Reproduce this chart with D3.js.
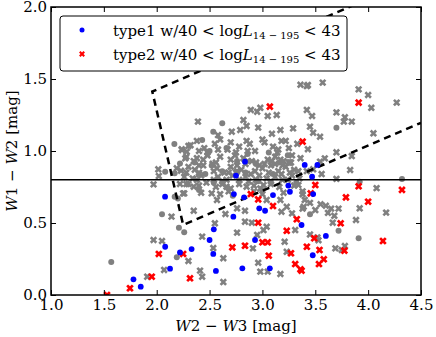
<!DOCTYPE html>
<html><head><meta charset="utf-8">
<script src="https://cdn.jsdelivr.net/npm/d3@7"></script>
<style>body{margin:0;background:#fff}svg{display:block}text{font-family:"DejaVu Serif",serif}</style>
</head><body><svg id="c" width="436" height="337"></svg>
<script>
// ---- data ----
const xTicks = [1.0,1.5,2.0,2.5,3.0,3.5,4.0,4.5];
const yTicks = [0.0,0.5,1.0,1.5,2.0];
const hLineY = 0.8;
const wedgeX = [4.5, 1.958, 2.250, 4.5];
const wedgeY = [2.214, 1.413, 0.487, 1.196];
const legendLabels = ["type1", "type2"];
const grayCrossX = [2.236,2.284,2.30,2.27,2.19,2.015,2.02,1.97,2.23,2.22,2.28,2.26,2.14,1.97,2.05,2.07,1.91,2.63,
 3.05,2.98,2.89,2.95,3.135,2.39,2.82,2.85,2.96,2.71,2.79,2.58,3.09,3.17,3.29,3.43,2.24,3.36,
 3.57,3.42,3.91,4.0,4.03,4.27,3.42,3.47,3.70,3.78,3.77,3.845,3.45,3.48,3.545,4.05,3.43,3.70,3.845,3.59,3.545,3.48,3.56,3.83,3.70,4.08,
 3.40,3.45,3.55,3.60,3.65,3.38,3.50,3.62,3.68,3.72,3.92,4.17,3.885,3.665,3.69,3.75,3.78,3.52,3.45,3.53,
 2.30,2.41,2.43,2.63,2.96,2.98,3.05,3.17,2.76,2.535,2.91,3.01,2.95,3.21,3.23,3.31,2.43,2.35,2.55,2.835,2.90,3.04,2.76,2.835,2.65,2.57,3.18,3.23,3.28,3.39,3.17,3.04,2.25,2.35,2.52,2.66,2.85,3.01,3.34,
 2.32,2.45,2.55,2.70,2.78,2.88,3.02,3.10,3.18,3.25,3.33,
 2.28,2.38,2.48,2.60,2.74,2.82,2.90,3.05,3.12,3.20,3.28,3.36,
 2.30,2.36,2.44,2.57,2.64,2.70,2.80,2.93,3.00,3.08,3.15,3.22,3.30,
 2.26,2.34,2.42,2.58,2.66,2.72,2.84,2.97,3.04,3.12,3.19,3.28,3.35,
 2.30,2.40,2.47,2.56,2.62,2.70,2.78,2.92,2.98,3.08,3.16,3.30,
 2.42,2.60,2.68,2.92,3.00,3.20,3.38,2.48,2.86,3.14,2.53,2.67,3.26,2.40,2.75,3.02,3.42,3.38,
 2.38,2.60,2.85,3.00,3.22, 2.40,2.58,2.75,2.93,3.15,
 2.35,2.44,2.56,2.70,2.86,2.94,3.09,3.17,3.25,
 2.40,2.53,2.76,2.84,2.97,3.12,3.19,3.27,
 2.28,2.40,2.54,2.68,2.76,2.89,3.06,3.18,3.26,3.34,
 2.38,2.54,2.62,2.78,2.87,2.94,3.08,3.24];
const grayCrossY = [1.012,0.995,1.035,0.949,0.88,0.873,0.826,0.768,0.863,0.771,0.771,0.706,0.544,0.382,0.375,0.174,0.127,0.09,
 1.243,1.30,1.285,1.273,1.25,1.204,1.215,1.174,1.162,1.134,1.146,1.11,1.12,1.146,1.157,1.458,1.007,1.46,
 1.475,1.451,1.428,1.389,1.30,1.336,1.285,1.243,1.268,1.234,1.204,1.204,1.169,1.127,1.099,1.123,1.012,0.991,0.965,0.949,0.926,0.873,0.84,0.868,0.806,0.742,
 0.66,0.64,0.63,0.62,0.60,0.60,0.59,0.57,0.55,0.60,0.602,0.572,0.521,0.502,0.324,0.3125,0.34,0.40,0.42,0.38,
 0.236,0.169,0.127,0.255,0.224,0.162,0.162,0.146,0.433,0.326,0.324,0.451,0.417,0.37,0.30,0.451,0.405,0.585,0.498,0.509,0.502,0.474,0.602,0.585,0.5625,0.66,0.578,0.613,0.567,0.613,0.66,0.66,0.706,0.752,0.706,0.752,0.752,0.764,0.764,
 1.04,1.02,1.05,1.06,1.03,1.05,1.06,1.03,1.07,1.02,1.05,
 0.96,0.95,0.97,0.96,0.97,0.95,0.93,0.94,0.96,0.93,0.97,0.95,
 0.89,0.87,0.90,0.88,0.85,0.89,0.87,0.86,0.88,0.90,0.86,0.89,0.87,
 0.82,0.81,0.83,0.82,0.80,0.83,0.82,0.83,0.81,0.82,0.80,0.83,0.81,
 0.77,0.76,0.78,0.75,0.77,0.74,0.77,0.76,0.74,0.77,0.75,0.76,
 0.71,0.70,0.72,0.72,0.70,0.71,0.72,0.99,1.00,0.99,0.91,1.01,0.92,0.84,0.85,0.91,0.86,0.70,
 1.07,1.08,1.07,1.08,1.07, 1.00,1.01,0.99,1.00,1.01,
 0.93,0.94,0.92,0.94,0.93,0.92,0.93,0.94,0.92,
 0.90,0.91,0.90,0.91,0.90,0.91,0.90,0.92,
 0.85,0.85,0.86,0.85,0.86,0.84,0.85,0.84,0.85,0.86,
 0.80,0.80,0.79,0.80,0.79,0.80,0.79,0.80];
const grayDotX = [2.167,2.22,2.08,2.17,2.17,2.20,2.05,2.21,2.26,2.19,1.57,2.62,2.535,2.43,3.70,3.92,4.32,3.45,3.72,3.91,
 2.50,2.66,2.86,3.06,3.24,2.36,2.52,2.76,2.94,3.16,2.46,2.62,2.84,3.10,2.54,2.96,3.32,2.40,2.72,3.00];
const grayDotY = [1.049,0.914,0.856,0.845,0.683,0.67,0.56,0.467,0.435,0.262,0.229,1.192,1.134,1.076,1.162,0.787,0.806,0.56,0.446,0.394,
 1.00,1.02,0.98,0.99,0.97,0.92,0.90,0.93,0.91,0.92,0.84,0.86,0.85,0.84,0.78,0.79,0.78,0.73,0.69,0.73];
const type1X = [2.079,2.08,2.22,2.126,1.78,1.849,2.835,2.75,3.245,3.40,3.52,3.47,3.48,3.37,3.60,3.476,2.73,2.826,3.10,3.26,2.97,3.025,2.725,2.54,2.50,2.93,2.33,2.535,2.56,2.81,3.07];
const type1Y = [0.683,0.335,0.296,0.183,0.109,0.058,0.926,0.829,0.76,0.903,0.903,0.822,0.701,0.486,0.41,0.276,0.701,0.678,0.694,0.717,0.602,0.585,0.544,0.456,0.382,0.382,0.319,0.285,0.167,0.185,0.185];
const type2X = [3.07,3.91,3.38,3.50,3.91,4.32,3.457,3.79,4.0,3.74,4.14,3.49,3.42,3.54,3.775,3.58,3.535,3.37,2.89,2.96,3.10,2.96,3.325,3.23,3.0,3.05,2.715,2.835,2.25,3.06,3.27,3.31,3.36,2.315,2.02,1.953,1.747,1.53];
const type2Y = [1.308,1.336,1.065,0.764,0.755,0.73,0.706,0.678,0.648,0.498,0.375,0.394,0.335,0.3125,0.308,0.248,0.215,0.169,0.701,0.664,0.618,0.502,0.526,0.446,0.366,0.366,0.331,0.342,0.285,0.273,0.29,0.215,0.178,0.116,0.285,0.127,0.047,0.0];

// ---- chart ----
const W=436,H=337,m={l:51,r:15,t:7,b:42};
const svg=d3.select("#c");
const x=d3.scaleLinear().domain([1.0,4.5]).range([m.l,W-m.r]);
const y=d3.scaleLinear().domain([0,2]).range([H-m.b,m.t]);
svg.append("defs").append("clipPath").attr("id","clip").append("rect")
 .attr("x",m.l).attr("y",m.t).attr("width",W-m.l-m.r).attr("height",H-m.t-m.b);
const g=svg.append("g").attr("clip-path","url(#clip)");
const cross=(s)=>d3.symbol(d3.symbolCross,s)();
const gray="#808080";
g.selectAll(".gx").data(grayCrossX.map((v,i)=>[v,grayCrossY[i]])).join("path")
 .attr("d",cross(34)).attr("fill",gray)
 .attr("transform",d=>`translate(${x(d[0])},${y(d[1])}) rotate(45)`);
g.selectAll(".gd").data(grayDotX.map((v,i)=>[v,grayDotY[i]])).join("circle")
 .attr("cx",d=>x(d[0])).attr("cy",d=>y(d[1])).attr("r",3).attr("fill",gray);
// lines
g.append("line").attr("x1",x(1)).attr("x2",x(4.5)).attr("y1",y(hLineY)).attr("y2",y(hLineY))
 .attr("stroke","#000").attr("stroke-width",1.5);
g.append("path").attr("d",d3.line().x(d=>x(d[0])).y(d=>y(d[1]))(wedgeX.map((v,i)=>[v,wedgeY[i]])))
 .attr("fill","none").attr("stroke","#000").attr("stroke-width",2.5).attr("stroke-dasharray","7,5");
g.selectAll(".r").data(type2X.map((v,i)=>[v,type2Y[i]])).join("path")
 .attr("d",cross(36)).attr("fill","#ff0000")
 .attr("transform",d=>`translate(${x(d[0])},${y(d[1])}) rotate(45)`);
g.selectAll(".b").data(type1X.map((v,i)=>[v,type1Y[i]])).join("circle")
 .attr("cx",d=>x(d[0])).attr("cy",d=>y(d[1])).attr("r",2.9).attr("fill","#0000ff");

// axes
const fmt=d3.format(".1f");
const ax=(gen,tr)=>svg.append("g").attr("transform",tr).call(gen);
function style(sel){sel.select(".domain").remove();sel.selectAll(".tick line").attr("stroke","#000").attr("stroke-width",1);sel.selectAll("text").attr("font-size",15).attr("fill","#000").attr("font-family","DejaVu Serif");}
const xb=ax(d3.axisBottom(x).tickValues(xTicks).tickFormat(fmt).tickSizeInner(-5).tickPadding(4),`translate(0,${H-m.b})`);style(xb);
const xt=ax(d3.axisTop(x).tickValues(xTicks).tickFormat("").tickSizeInner(-5),`translate(0,${m.t})`);style(xt);
const yl=ax(d3.axisLeft(y).tickValues(yTicks).tickFormat(fmt).tickSizeInner(-5).tickPadding(4),`translate(${m.l},0)`);style(yl);
const yr=ax(d3.axisRight(y).tickValues(yTicks).tickFormat("").tickSizeInner(-5),`translate(${W-m.r},0)`);style(yr);
svg.append("rect").attr("x",m.l).attr("y",m.t).attr("width",W-m.l-m.r).attr("height",H-m.t-m.b)
 .attr("fill","none").attr("stroke","#000").attr("stroke-width",1.5);

// axis labels
const xl=svg.append("text").attr("x",(m.l+W-m.r)/2).attr("y",331).attr("text-anchor","middle").attr("font-size",15);
xl.append("tspan").attr("font-style","italic").text("W");xl.append("tspan").text("2 − ");
xl.append("tspan").attr("font-style","italic").text("W");xl.append("tspan").text("3 [mag]");
const ylb=svg.append("text").attr("transform",`translate(17,${(m.t+H-m.b)/2}) rotate(-90)`).attr("text-anchor","middle").attr("font-size",15);
ylb.append("tspan").attr("font-style","italic").text("W");ylb.append("tspan").text("1 − ");
ylb.append("tspan").attr("font-style","italic").text("W");ylb.append("tspan").text("2 [mag]");

// legend
const lg=svg.append("g");
lg.append("rect").attr("x",60).attr("y",16).attr("width",287).attr("height",55).attr("rx",3)
 .attr("fill","#fff").attr("stroke","#000").attr("stroke-width",1);
lg.append("circle").attr("cx",82).attr("cy",30).attr("r",2.5).attr("fill","#0000ff");
lg.append("path").attr("d",cross(22)).attr("fill","#ff0000").attr("transform","translate(82,54) rotate(45)");
legendLabels.forEach((lab,i)=>{
 const t=lg.append("text").attr("x",113).attr("y",36+i*24).attr("font-size",15);
 t.append("tspan").text(lab+" w/40 < log");
 t.append("tspan").attr("font-style","italic").text("L");
 t.append("tspan").attr("font-size",10).attr("dy",3).text("14 − 195");
 t.append("tspan").attr("dy",-3).text(" < 43");
});
</script></body></html>
